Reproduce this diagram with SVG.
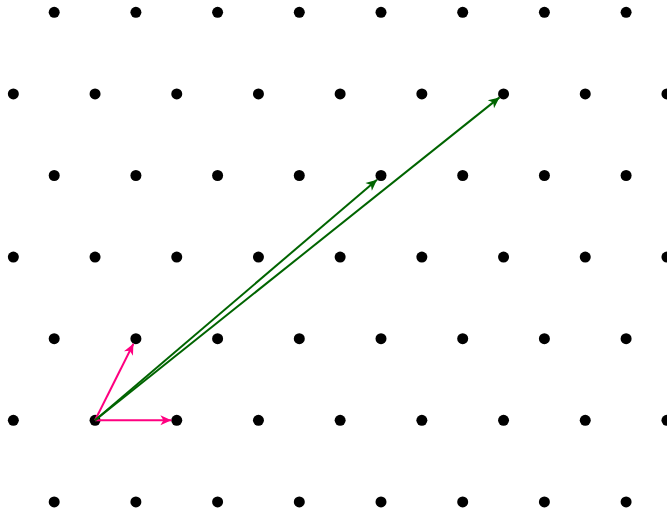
<svg xmlns="http://www.w3.org/2000/svg" xmlns:xlink="http://www.w3.org/1999/xlink" width="667" height="513" viewBox="0 0 667 513">
<style>
.dot{fill:#000}
.pink{stroke:#ff0080;stroke-width:2;fill:none}
.green{stroke:#006400;stroke-width:2;fill:none}
</style>
<defs>
<circle id="d" r="5.5" class="dot"/>
<marker id="ap" markerUnits="userSpaceOnUse" markerWidth="14" markerHeight="12" viewBox="-12 -6 13 12" refX="0" refY="0" orient="auto">
<path d="M0,0 L-11,-5 L-8,0 L-11,5 Z" fill="#ff0080"/>
</marker>
<marker id="ag" markerUnits="userSpaceOnUse" markerWidth="14" markerHeight="12" viewBox="-12 -6 13 12" refX="0" refY="0" orient="auto">
<path d="M0,0 L-11,-5 L-8,0 L-11,5 Z" fill="#006400"/>
</marker>
</defs>
<g id="lattice">
<g id="row0" transform="translate(0,12.3)">
<use xlink:href="#d" x="54.2"/><use xlink:href="#d" x="135.9"/><use xlink:href="#d" x="217.6"/><use xlink:href="#d" x="299.3"/><use xlink:href="#d" x="381"/><use xlink:href="#d" x="462.7"/><use xlink:href="#d" x="544.4"/><use xlink:href="#d" x="626.1"/>
</g>
<g id="row1" transform="translate(0,93.9)">
<use xlink:href="#d" x="13.35"/><use xlink:href="#d" x="95.05"/><use xlink:href="#d" x="176.75"/><use xlink:href="#d" x="258.45"/><use xlink:href="#d" x="340.15"/><use xlink:href="#d" x="421.85"/><use xlink:href="#d" x="503.55"/><use xlink:href="#d" x="585.25"/><use xlink:href="#d" x="666.95"/>
</g>
<g id="row2" transform="translate(0,175.5)">
<use xlink:href="#d" x="54.2"/><use xlink:href="#d" x="135.9"/><use xlink:href="#d" x="217.6"/><use xlink:href="#d" x="299.3"/><use xlink:href="#d" x="381"/><use xlink:href="#d" x="462.7"/><use xlink:href="#d" x="544.4"/><use xlink:href="#d" x="626.1"/>
</g>
<g id="row3" transform="translate(0,257.1)">
<use xlink:href="#d" x="13.35"/><use xlink:href="#d" x="95.05"/><use xlink:href="#d" x="176.75"/><use xlink:href="#d" x="258.45"/><use xlink:href="#d" x="340.15"/><use xlink:href="#d" x="421.85"/><use xlink:href="#d" x="503.55"/><use xlink:href="#d" x="585.25"/><use xlink:href="#d" x="666.95"/>
</g>
<g id="row4" transform="translate(0,338.7)">
<use xlink:href="#d" x="54.2"/><use xlink:href="#d" x="135.9"/><use xlink:href="#d" x="217.6"/><use xlink:href="#d" x="299.3"/><use xlink:href="#d" x="381"/><use xlink:href="#d" x="462.7"/><use xlink:href="#d" x="544.4"/><use xlink:href="#d" x="626.1"/>
</g>
<g id="row5" transform="translate(0,420.3)">
<use xlink:href="#d" x="13.35"/><use xlink:href="#d" x="95.05"/><use xlink:href="#d" x="176.75"/><use xlink:href="#d" x="258.45"/><use xlink:href="#d" x="340.15"/><use xlink:href="#d" x="421.85"/><use xlink:href="#d" x="503.55"/><use xlink:href="#d" x="585.25"/><use xlink:href="#d" x="666.95"/>
</g>
<g id="row6" transform="translate(0,501.9)">
<use xlink:href="#d" x="54.2"/><use xlink:href="#d" x="135.9"/><use xlink:href="#d" x="217.6"/><use xlink:href="#d" x="299.3"/><use xlink:href="#d" x="381"/><use xlink:href="#d" x="462.7"/><use xlink:href="#d" x="544.4"/><use xlink:href="#d" x="626.1"/>
</g>
</g>
<g id="connectors">
<line class="pink" x1="95.05" y1="420.3" x2="171.4" y2="420.3" marker-end="url(#ap)"/>
<line class="pink" x1="95.05" y1="420.3" x2="133.4" y2="343.7" marker-end="url(#ap)"/>
<line class="green" x1="95.05" y1="420.3" x2="377" y2="179.7" marker-end="url(#ag)"/>
<line class="green" x1="95.05" y1="420.3" x2="499.5" y2="97.4" marker-end="url(#ag)"/>
</g>
</svg>
